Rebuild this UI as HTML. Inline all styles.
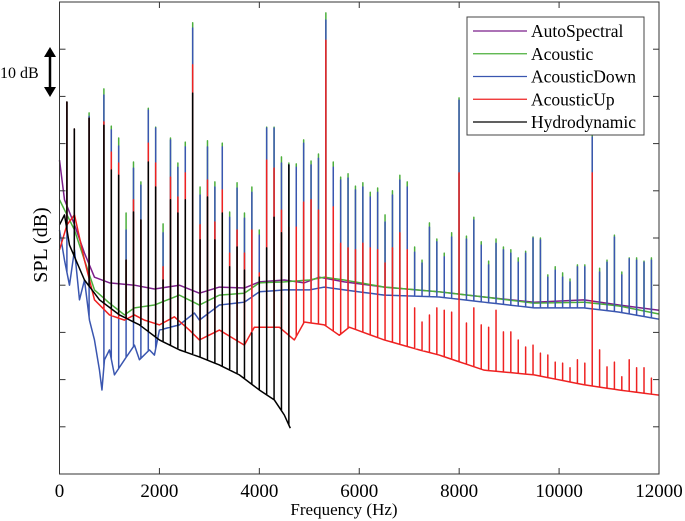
<!DOCTYPE html>
<html><head><meta charset="utf-8"><style>
html,body{margin:0;padding:0;background:#fff;}
svg{display:block;font-family:"Liberation Serif",serif;}
</style></head><body>
<svg id="chart" width="685" height="521" viewBox="0 0 685 521" xmlns="http://www.w3.org/2000/svg">
<g id="series"></g>
<g id="axes"></g>
<text x="0" y="0" transform="translate(47,245) rotate(-90)" text-anchor="middle" font-size="20">SPL (dB)</text>
<text x="344" y="515" text-anchor="middle" font-size="17">Frequency (Hz)</text>
<text x="0" y="78" font-size="16">10 dB</text>
<g>
<line x1="50" y1="52" x2="50" y2="92" stroke="#000" stroke-width="2.5"/>
<polygon points="44,57 50,47 56,57" fill="#000"/>
<polygon points="44,87 50,97 56,87" fill="#000"/>
</g>
<g>
<rect x="467" y="17" width="177" height="118" fill="#fff" stroke="#444" stroke-width="1"/>
</g>
<g id="legend-entries"></g>
</svg>
<script>
const xTicks=[0,2000,4000,6000,8000,10000,12000];
const yTicks=[10,20,30,40,50,60,70,80,90];
const f0=148.1;
const seriesNames=["AutoSpectral","Acoustic","AcousticDown","AcousticUp","Hydrodynamic"];
const seriesColors=["#7b1f8a","#4caf3c","#3a56b0","#ee2222","#000000"];

const purpleF=[0,100,300,500,700,1000,1500,1900,2400,2800,3200,3700,4000,4500,4900,5200,5700,6500,7600,8500,9500,10500,11200,12000];
const purpleDb=[66.5,58.1,52.8,46.8,41.7,40.5,40.0,39.2,40.0,38.3,39.6,39.4,40.7,41.1,40.5,41.7,40.7,39.6,38.6,37.5,36.4,36.9,35.8,34.7];

const greenF=[0,300,500,700,1000,1300,1500,1900,2400,2800,3200,3700,4000,4500,5000,5300,5700,6500,7600,8500,9500,10500,11200,12000];
const greenDb=[58.1,51.7,45.3,39.0,36.2,33.7,35.2,35.8,37.9,35.8,37.9,38.3,40.5,40.7,41.1,41.7,41.1,39.6,38.6,37.5,36.2,36.4,35.6,33.9];

const blueF=[0,100,200,300,400,500,600,700,800,850,900,1000,1100,1300,1500,1600,1800,1900,2000,2400,2700,2800,3200,3700,4000,4500,5000,5300,5700,6500,7600,8500,9500,10500,11200,12000];
const blueDb=[51.7,45.3,40.0,47.5,36.9,41.1,32.6,28.4,22.0,17.8,24.2,26.3,21.0,24.2,27.3,24.2,26.3,25.2,30.5,31.6,34.1,32.6,35.8,36.4,38.6,39.0,39.0,39.6,39.0,37.9,37.5,36.4,35.2,35.2,34.3,32.8];

const redF=[0,150,300,500,700,1000,1300,1500,1700,2000,2300,2600,2800,3200,3700,3900,4400,4700,4900,5300,5600,5800,6500,7200,7600,8500,9500,10500,11200,12000];
const redDb=[47.5,52.8,54.9,45.3,36.9,33.7,32.6,33.7,32.6,31.6,33.3,30.5,28.4,30.5,27.3,31.1,31.1,28.4,32.2,31.6,29.4,31.1,28.4,26.3,25.2,22.0,21.0,18.9,17.8,16.7];

const blackF=[0,100,200,500,800,1200,1600,2000,2400,2800,3200,3600,4000,4300,4500,4620];
const blackDb=[52.8,54.9,48.5,41.1,36.9,33.7,31.6,28.4,26.3,24.8,23.1,21.0,17.8,15.7,12.5,9.7];

// harmonic peak tops (dB), index = harmonic number - 1; null = no peak
const greenPeaks=[78.8,73.1,null,76.5,null,81.6,73.7,71.2,55.3,66.1,61.9,77.5,73.5,53.0,71.2,65.9,70.3,95.6,60.8,70.6,61.9,70.1,55.5,61.7,55.3,60.8,51.7,73.5,73.5,67.2,65.9,65.7,70.8,66.3,67.8,97.7,66.1,62.9,63.6,61.0,61.7,59.7,60.6,54.9,60.0,63.3,61.9,48.1,45.3,53.2,49.8,46.8,51.1,79.7,50.4,54.4,49.2,45.1,49.8,48.1,47.5,45.8,47.2,50.2,50.0,42.2,43.9,42.6,41.3,44.3,44.3,71.8,43.6,45.3,50.6,42.8,45.8,45.8,45.1,45.8];
const bluePeaks=[78.8,73.1,null,75.8,null,80.3,72.9,69.5,51.7,64.8,61.2,77.1,73.3,51.1,70.8,65.0,69.3,94.5,59.1,69.3,60.8,69.3,54.4,60.6,54.2,59.7,50.6,73.3,73.3,65.9,65.5,65.0,70.1,65.5,66.9,96.2,65.0,62.3,62.7,60.2,60.8,58.7,59.7,53.4,59.1,62.3,60.8,47.0,44.7,52.3,49.2,46.0,50.2,79.2,49.8,53.8,48.5,44.3,48.9,47.5,46.8,44.9,46.8,50.0,49.6,41.7,43.2,41.7,40.7,43.9,43.9,71.4,42.8,44.9,50.2,42.2,45.6,45.3,44.9,45.3];
const redPeaks=[78.8,73.1,null,75.4,null,74.6,68.2,65.9,45.3,58.1,53.8,70.1,65.9,43.9,62.9,58.7,63.8,86.7,52.8,62.3,53.4,60.2,46.8,51.7,46.8,51.7,42.6,66.5,64.8,55.9,52.3,52.3,57.6,58.1,55.9,91.9,56.6,48.9,47.9,47.5,48.9,47.9,47.5,44.7,47.9,51.1,47.5,35.2,32.2,33.7,35.2,34.7,34.3,63.8,32.0,35.2,31.6,31.1,34.7,30.1,30.1,28.4,26.9,27.3,25.6,25.2,23.7,23.5,22.5,24.2,23.5,63.8,26.3,22.7,23.7,20.6,24.2,22.5,22.5,20.3];
const blackPeaks=[78.8,73.1,null,75.4,null,73.9,64.4,63.3,45.3,55.5,53.8,66.1,60.8,41.1,58.1,55.3,58.1,80.7,49.6,58.7,49.6,55.3,43.9,48.1,43.2,29.9,41.7,47.9,54.4,51.1,65.5];

const X0=59.5,X1=659,Y0=474,Y1=2;
function xs(f){return X0+(f-0)/(12000-0)*(X1-X0);}
function ys(v){return Y0-(v-0)/(100-0)*(Y0-Y1);}
function interp(F,D,f){
  if(f<=F[0])return D[0];
  for(let i=1;i<F.length;i++){if(f<=F[i]){const t=(f-F[i-1])/(F[i]-F[i-1]);return D[i-1]+t*(D[i]-D[i-1]);}}
  return D[D.length-1];
}
const NS="http://www.w3.org/2000/svg";
const seriesG=document.getElementById('series');
function buildPath(F,D,peaks,color,name){
  const fmax=F[F.length-1];
  let evs=F.map(f=>({f:f,p:null}));
  if(peaks){peaks.forEach((p,i)=>{const f=(i+1)*f0;if(p!==null&&f<fmax)evs.push({f:f,p:p});});}
  evs.sort((a,b)=>a.f-b.f);
  let d="";
  evs.forEach((e,i)=>{
    const base=interp(F,D,e.f);
    const x=xs(e.f).toFixed(2);
    d+=(i===0?"M":"L")+x+","+ys(base).toFixed(2);
    if(e.p!==null&&e.p>base){d+="L"+x+","+ys(e.p).toFixed(2)+"L"+x+","+ys(base).toFixed(2);}
  });
  const p=document.createElementNS(NS,'path');
  p.setAttribute('d',d);
  p.setAttribute('fill','none');
  p.setAttribute('stroke',color);
  p.setAttribute('stroke-width','1.5');
  p.setAttribute('stroke-linejoin','round');
  
  
  seriesG.appendChild(p);
}
buildPath(purpleF,purpleDb,null,seriesColors[0],'autospectral-line');
buildPath(greenF,greenDb,greenPeaks,seriesColors[1],'acoustic-line');
buildPath(blueF,blueDb,bluePeaks,seriesColors[2],'acoustic-down-line');
buildPath(redF,redDb,redPeaks,seriesColors[3],'acoustic-up-line');
buildPath(blackF,blackDb,blackPeaks,seriesColors[4],'hydrodynamic-line');

const ax=document.getElementById('axes');
const frame=document.createElementNS(NS,'rect');
frame.setAttribute('x',X0);frame.setAttribute('y',Y1);
frame.setAttribute('width',X1-X0);frame.setAttribute('height',Y0-Y1);
frame.setAttribute('fill','none');frame.setAttribute('stroke','#333');frame.setAttribute('stroke-width','1');


ax.appendChild(frame);
xTicks.forEach(t=>{
  const x=xs(t);
  [[Y0,Y0-6],[Y1,Y1+6]].forEach(([a,b])=>{
    const l=document.createElementNS(NS,'line');
    l.setAttribute('x1',x);l.setAttribute('x2',x);l.setAttribute('y1',a);l.setAttribute('y2',b);
    l.setAttribute('stroke','#333');
    
    
    ax.appendChild(l);
  });
  const tx=document.createElementNS(NS,'text');
  tx.setAttribute('x',x);tx.setAttribute('y',497);tx.setAttribute('text-anchor','middle');tx.setAttribute('font-size','19');
  tx.textContent=t;
  
  
  ax.appendChild(tx);
});
yTicks.forEach(t=>{
  const y=ys(t);
  [[X0,X0+6],[X1,X1-6]].forEach(([a,b])=>{
    const l=document.createElementNS(NS,'line');
    l.setAttribute('x1',a);l.setAttribute('x2',b);l.setAttribute('y1',y);l.setAttribute('y2',y);
    l.setAttribute('stroke','#333');
    
    
    ax.appendChild(l);
  });
});
const lg=document.getElementById('legend-entries');
seriesNames.forEach((n,i)=>{
  const y=31+i*22.75;
  const g=document.createElementNS(NS,'g');
  
  
  const l=document.createElementNS(NS,'line');
  l.setAttribute('x1',473);l.setAttribute('x2',527);l.setAttribute('y1',y);l.setAttribute('y2',y);
  l.setAttribute('stroke',seriesColors[i]);l.setAttribute('stroke-width','1.3');
  g.appendChild(l);
  const t=document.createElementNS(NS,'text');
  t.setAttribute('x',531);t.setAttribute('y',y+6);t.setAttribute('font-size','17.5');
  t.textContent=n;
  g.appendChild(t);
  lg.appendChild(g);
});
</script>
</body></html>
